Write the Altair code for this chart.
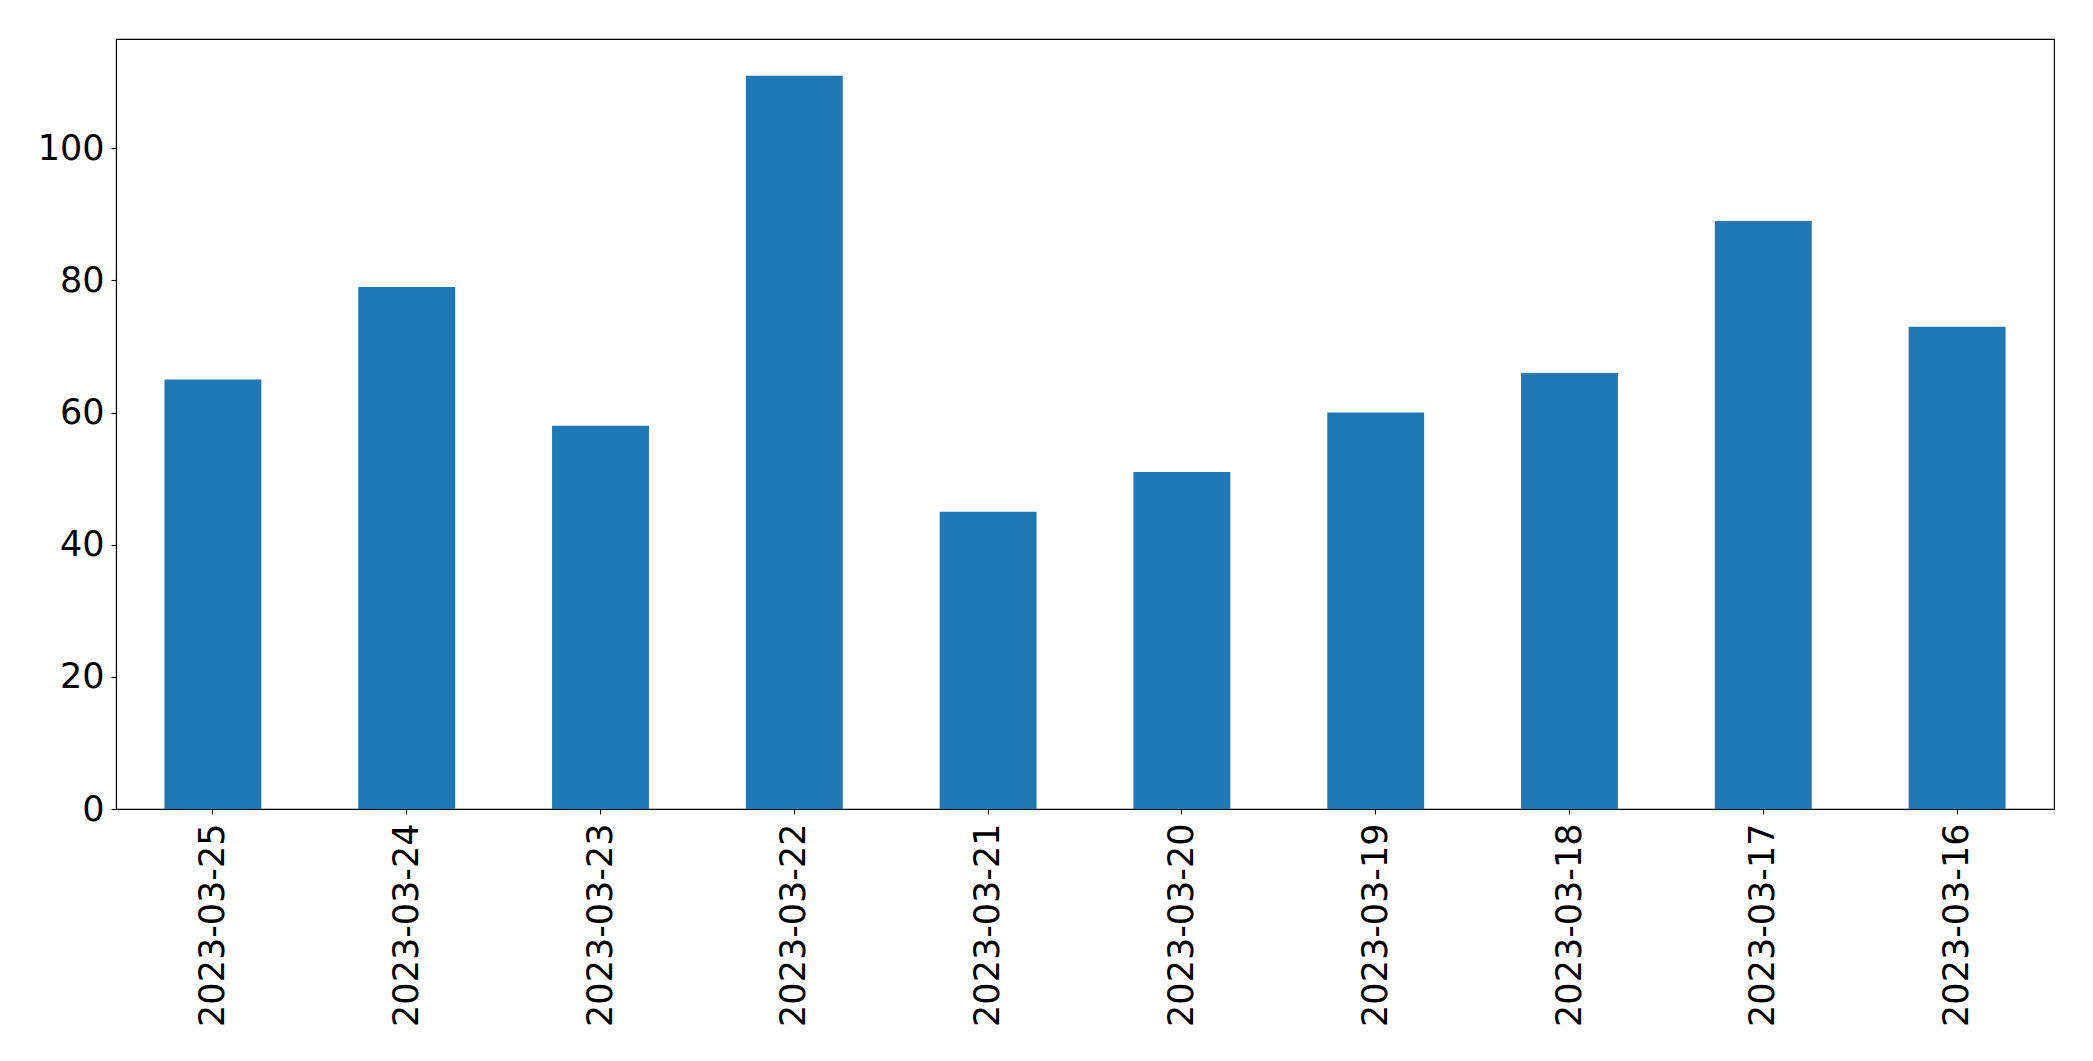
import altair as alt
import pandas as pd

dates = ["2023-03-25", "2023-03-24", "2023-03-23", "2023-03-22", "2023-03-21",
         "2023-03-20", "2023-03-19", "2023-03-18", "2023-03-17", "2023-03-16"]
values = [65, 79, 58, 111, 45, 51, 60, 66, 89, 73]
y_ticks = [0, 20, 40, 60, 80, 100]

df = pd.DataFrame({"date": dates, "value": values})

common_axis = dict(labelFont="DejaVu Sans", labelFontSize=35, labelColor="black",
                   tickColor="black", domainColor="black", tickSize=5, tickWidth=1.1,
                   domainWidth=1.1, grid=False, labelLimit=400)

chart = alt.Chart(df).mark_bar(color="#1f77b4").encode(
    x=alt.X("date:N", sort=dates, title=None,
            scale=alt.Scale(paddingInner=0.5, paddingOuter=0.25),
            axis=alt.Axis(labelAngle=270, labelPadding=9, **common_axis)),
    y=alt.Y("value:Q", title=None,
            scale=alt.Scale(domain=[0, 116.55], nice=False, zero=True),
            axis=alt.Axis(values=y_ticks, labelPadding=7, **common_axis)),
).properties(
    width=1938, height=770,
    autosize=alt.AutoSizeParams(type="none"),
    padding={"left": 108, "top": 31, "right": 31, "bottom": 244},
    background="white",
).configure_view(stroke="black", strokeWidth=1.1)

chart.save("out.html", embed_options={"renderer": "svg", "actions": False})
